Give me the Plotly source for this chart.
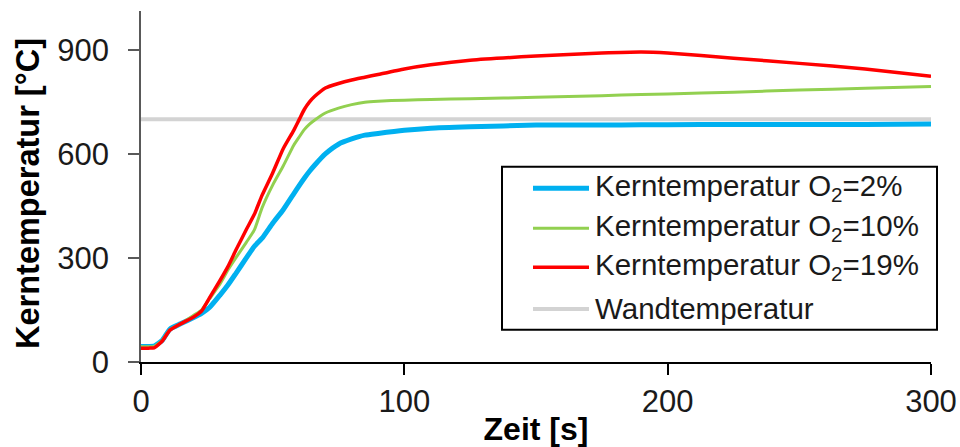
import plotly.graph_objects as go

# ---- data ----
time_s = [0, 3, 5, 8, 11, 15, 20, 23, 26, 30, 33, 36, 40, 43, 46, 50, 54, 58, 60, 62, 64, 66, 70, 75, 80,
          85, 90, 100, 110, 125, 150, 175, 190, 200, 225, 250, 275, 300]

temp_o2_2 = [45, 45, 46, 62, 95, 110, 128, 140, 157, 193, 222, 255, 300, 333, 357, 400, 439, 485, 508, 530,
             550, 568, 600, 628, 643, 654, 659, 668, 674, 678, 683, 683, 684, 684, 685, 685, 685, 686]

temp_o2_10 = [45, 44, 45, 62, 93, 110, 135, 150, 182, 225, 265, 300, 345, 380, 445, 510, 565, 625, 648, 670,
              686, 698, 718, 732, 742, 749, 752, 755, 757, 759, 763, 768, 771, 773, 778, 784, 789, 794]

temp_o2_19 = [40, 40, 41, 60, 92, 110, 130, 147, 185, 235, 275, 322, 382, 425, 481, 545, 615, 668, 698, 728,
              750, 766, 790, 803, 813, 821, 829, 845, 857, 870, 882, 891, 894, 891, 876, 861, 845, 824]

wall_time = [0, 300]
wall_temp = [700, 700]

series_names = ["Kerntemperatur O<sub>2</sub>=2%",
                "Kerntemperatur O<sub>2</sub>=10%",
                "Kerntemperatur O<sub>2</sub>=19%",
                "Wandtemperatur"]

x_ticks = [0, 100, 200, 300]
y_ticks = [0, 300, 600, 900]

x_title = "Zeit [s]"
y_title = "Kerntemperatur [°C]"

colors = ["#00B0F0", "#92D050", "#FF0000", "#D3D3D3"]
widths = [5, 3, 3.5, 4]

FONT = "Liberation Sans, Arial, sans-serif"

fig = go.Figure()
fig.add_trace(go.Scatter(x=wall_time, y=wall_temp, mode="lines", name=series_names[3],
                         line=dict(color=colors[3], width=widths[3]), showlegend=False))
for t, nm, c, w in [(temp_o2_2, series_names[0], colors[0], widths[0]),
                    (temp_o2_10, series_names[1], colors[1], widths[1]),
                    (temp_o2_19, series_names[2], colors[2], widths[2])]:
    fig.add_trace(go.Scatter(x=time_s, y=t, mode="lines", name=nm,
                             line=dict(color=c, width=w, shape="spline", smoothing=0.5),
                             showlegend=False))

# ---- manual legend (box, sample lines, labels) ----
W, H = 790.0, 351.6
L, B = 141.0, 362.3
def px(x):
    return (x - L) / W
def py(y):
    return (B - y) / H

shapes = [dict(type="rect", xref="paper", yref="paper",
               x0=px(502), x1=px(937), y0=py(330), y1=py(166.7),
               line=dict(color="black", width=2), fillcolor="white", layer="above")]
rows = [188.3, 228.3, 267.3, 309.3]
legend_order = [0, 1, 2, 3]
annotations = []
for i, r in zip(legend_order, rows):
    shapes.append(dict(type="line", xref="paper", yref="paper",
                       x0=px(533), x1=px(589), y0=py(r), y1=py(r),
                       line=dict(color=colors[i], width=widths[i]), layer="above"))
    annotations.append(dict(xref="paper", yref="paper", x=px(593), y=py(r - 1),
                            text=series_names[i], showarrow=False,
                            xanchor="left", yanchor="middle",
                            font=dict(family=FONT, size=29.5, color="#1a1a1a")))

# y-axis title as a rotated annotation (reference centres it slightly below the plot middle)
annotations.append(dict(xref="paper", yref="paper", x=px(28), y=py(194),
                        text="<b>" + y_title + "</b>", showarrow=False, textangle=-90,
                        xanchor="center", yanchor="middle",
                        font=dict(family=FONT, size=32.5, color="black")))

fig.update_layout(
    width=960, height=447,
    margin=dict(l=141, r=29, t=10.7, b=84.7, pad=0),
    paper_bgcolor="white", plot_bgcolor="white",
    font=dict(family=FONT, color="#1a1a1a"),
    shapes=shapes, annotations=annotations,
    showlegend=False,
    xaxis=dict(range=[0, 300], tickvals=x_ticks, ticktext=[str(v) for v in x_ticks],
               automargin=False,
               showgrid=False, zeroline=False, showline=True, linecolor="black", linewidth=1.5,
               ticks="outside", ticklen=11, tickwidth=1.5, tickcolor="black",
               tickfont=dict(family=FONT, size=31, color="#1a1a1a"),
               title=dict(text="<b>" + x_title + "</b>", font=dict(family=FONT, size=32, color="black"),
                          standoff=3)),
    yaxis=dict(range=[0, 1012], tickvals=y_ticks, ticktext=[str(v) for v in y_ticks],
               automargin=False,
               showgrid=False, zeroline=False, showline=True, linecolor="#595959", linewidth=1.5,
               ticks="outside", ticklen=11, tickwidth=1.5, tickcolor="#595959",
               tickfont=dict(family=FONT, size=31, color="#1a1a1a"),
               ticklabelstandoff=13),
)

fig.write_html("out.html",
               config={"displayModeBar": False},
               post_script="document.body.style.margin='0';document.body.style.overflow='hidden';")
